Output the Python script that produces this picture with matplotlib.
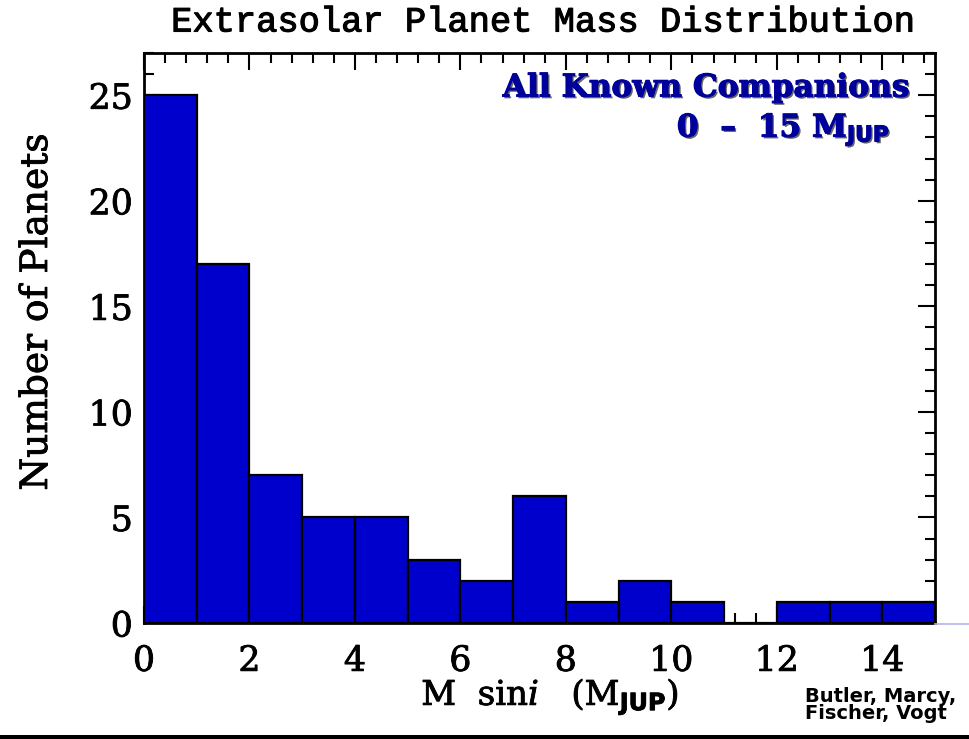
import numpy as np
import matplotlib
matplotlib.use("Agg")
import matplotlib.pyplot as plt
from matplotlib.ticker import MultipleLocator
from matplotlib.lines import Line2D
from matplotlib.patches import Rectangle
import matplotlib.patheffects as pe

# Histogram of M sin i, 1 M_JUP bins from 0 to 15
bin_edges = list(range(0, 16))
counts = [25, 17, 7, 5, 5, 3, 2, 6, 1, 2, 1, 0, 1, 1, 1]
x_ticks = [0, 2, 4, 6, 8, 10, 12, 14]
y_ticks = [0, 5, 10, 15, 20, 25]

plt.rcParams['mathtext.fontset'] = 'custom'
plt.rcParams['mathtext.rm'] = 'DejaVu Serif'
plt.rcParams['mathtext.it'] = 'DejaVu Serif:italic'
plt.rcParams['mathtext.bf'] = 'DejaVu Sans:bold'
plt.rcParams['mathtext.sf'] = 'DejaVu Sans:bold'

W, H = 970, 739
fig = plt.figure(figsize=(W / 100, H / 100), dpi=100)
ax = fig.add_axes([144 / W, 1 - 623 / H, (935 - 144) / W, (623 - 53) / H])

bar_blue = '#0000CC'
left = np.array(bin_edges[:-1])
widths = np.diff(bin_edges)
ax.bar(left, counts, width=widths, align='edge', color=bar_blue,
       edgecolor='black', linewidth=1.6, zorder=3)
ax.set_xlim(0, 15)
ax.set_ylim(0, 27)

ax.set_xticks(x_ticks)
ax.set_yticks(y_ticks)
ax.xaxis.set_minor_locator(MultipleLocator(0.4))
ax.yaxis.set_minor_locator(MultipleLocator(1))
ax.tick_params(which='both', direction='in', top=True, right=True,
               width=1.5, color='black')
ax.tick_params(which='major', length=12)
ax.tick_params(which='minor', length=7)
ax.tick_params(axis='x', which='major', pad=15)
ax.tick_params(axis='y', which='major', pad=8)
bold_edge = [pe.withStroke(linewidth=0.6, foreground='black')]
for lab in ax.get_xticklabels() + ax.get_yticklabels():
    lab.set_fontfamily('DejaVu Serif')
    lab.set_fontsize(25)
    lab.set_path_effects(bold_edge)
for s in ax.spines.values():
    s.set_linewidth(2)

# title and axis labels
fig.text(543 / W, 1 - 22 / H, 'Extrasolar Planet Mass Distribution',
         ha='center', va='center', fontsize=25.5, family='Liberation Mono',
         color='black', path_effects=[pe.withStroke(linewidth=0.8, foreground='black')])
fig.text(550 / W, 1 - 697 / H,
         r'M  sin$\mathit{i}$   (M$_{\mathbf{JUP}}$)',
         ha='center', va='center', fontsize=24.5, family='DejaVu Serif',
         path_effects=bold_edge)
fig.text(37 / W, 1 - 312 / H, 'Number of Planets', rotation=90,
         ha='center', va='center', fontsize=27, family='DejaVu Serif',
         path_effects=bold_edge)

# annotation inside the plot
shadow = [pe.withSimplePatchShadow(offset=(1.3, -1.3), shadow_rgbFace='black', alpha=0.6),
          pe.withStroke(linewidth=0.8, foreground='#00009A')]
label_blue = '#00009A'
fig.text(910 / W, 1 - 88 / H, 'All Known Companions', ha='right', va='center',
         fontsize=22.5, family='DejaVu Serif', fontweight='bold',
         color=label_blue, path_effects=shadow)
fig.text(890 / W, 1 - 130 / H,
         r'0  –  15 M$_{\mathbf{JUP}}$', ha='right', va='center',
         fontsize=22.5, family='DejaVu Serif', fontweight='bold',
         color=label_blue, path_effects=shadow)

# credit
fig.text(805 / W, 1 - 705 / H, 'Butler, Marcy,\nFischer, Vogt',
         ha='left', va='center', fontsize=14, family='DejaVu Sans',
         fontweight='bold', linespacing=0.9)

# faint baseline continuing past the frame and bottom rule
fig.add_artist(Line2D([935 / W, 1.0], [1 - 623.5 / H, 1 - 623.5 / H],
                      color='#B4B4EC', linewidth=1.2))
fig.add_artist(Rectangle((0, 0), 1, 4 / H, transform=fig.transFigure,
                         color='black', linewidth=0))

fig.savefig('out.png', dpi=100)
